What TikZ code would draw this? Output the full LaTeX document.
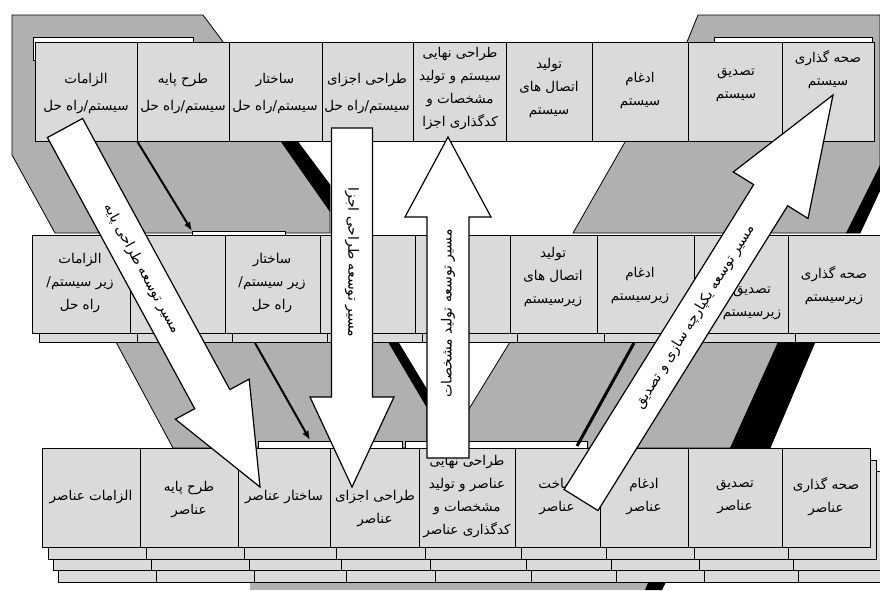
\documentclass[tikz,border=0pt]{standalone}
\usepackage{fontspec}
\usetikzlibrary{calc,arrows.meta}
\newfontfamily\fa[Script=Arabic]{DejaVu Sans}
\TeXXeTstate=1
\definecolor{cellgray}{RGB}{218,218,218}
\definecolor{bandgray}{RGB}{176,176,176}
\newcommand\rl[1]{\beginR #1\endR}
\newcommand\cellbox[5]{\node[cell, minimum width={#4-#2}, minimum height={#5-#3}] (#1) at (#2,#3) {};}
% #1 prefix, #2 tail, #3 tip, #4 shaft half width, #5 head half width, #6 head length
\newcommand\fatarrow[6]{%
  \coordinate (#1h) at ($(#3)!#6!(#2)$);
  \draw[bigarrow] ($(#2)!#4!90:(#3)$) -- ($(#1h)!#4!-90:(#2)$) -- ($(#1h)!#5!-90:(#2)$) -- (#3)
     -- ($(#1h)!#5!90:(#2)$) -- ($(#1h)!#4!90:(#2)$) -- ($(#2)!#4!-90:(#3)$) -- cycle;}
\begin{document}
\begin{tikzpicture}[x=1pt,y=-1pt,
  cell/.style={draw=black, line width=1pt, fill=cellgray, anchor=north west, inner sep=0pt, outer sep=0pt},
  layer/.style={draw=black, line width=1pt, fill=cellgray},
  whitelayer/.style={draw=black, line width=0.8pt, fill=white},
  band/.style={fill=bandgray, draw=black, line width=0.8pt},
  stripe/.style={fill=black},
  flowline/.style={line width=2pt, -{Latex[length=9pt,width=7pt]}},
  plainflow/.style={line width=3pt},
  bigarrow/.style={draw=black, line width=1.2pt, fill=white, line join=miter},
  lbl/.style={align=center, inner sep=0pt, font=\fa\fontsize{13.5}{23}\selectfont},
  lbltall/.style={align=center, inner sep=0pt, font=\fa\fontsize{13.5}{27}\selectfont},
  atext/.style={inner sep=0pt, font=\fa\fontsize{14}{16}\selectfont},
]
\fill[white] (0,0) rectangle (880,590);
\useasboundingbox (0,0) rectangle (880,590);

% ---------- gray bands ----------
\draw[band] (12,15) -- (203,15) -- (330,185) -- (330,233) -- (55,233) -- (12,155) -- cycle;
\fill[stripe] (281,142) -- (298,142) -- (330,185) -- (330,212) -- cycle;
\draw[band] (698,15) -- (880,15) -- (880,190) -- (860,233) -- (573,233) -- (625,142) -- (687,42) -- cycle;
\fill[stripe] (880,165) -- (880,190) -- (860,233) -- (846,233) -- cycle;
\draw[band] (116,342) -- (398,342) -- (427,390) -- (427,448) -- (173,448) -- cycle;
\fill[stripe] (388,342) -- (398,342) -- (427,390) -- (427,408) -- cycle;
\draw[band] (510,342) -- (815,342) -- (770,448) -- (445,448) -- cycle;
\fill[stripe] (778,342) -- (815,342) -- (770,448) -- (730,448) -- cycle;
\fill[bandgray] (250,578) rectangle (650,590);
\fill[stripe] (650,578) -- (668,578) -- (662,590) -- (645,590) -- cycle;

% ---------- top row (system) ----------
\draw[whitelayer] (33,37) rectangle (193,60);
\draw[whitelayer] (714,37) rectangle (872,60);
\cellbox{t1}{35}{42}{137}{141}
\cellbox{t2}{137}{42}{229}{141}
\cellbox{t3}{229}{42}{322}{141}
\cellbox{t4}{322}{42}{413}{141}
\cellbox{t5}{413}{42}{506}{141}
\cellbox{t6}{506}{42}{592}{141}
\cellbox{t7}{592}{42}{688}{141}
\cellbox{t8}{688}{42}{782}{141}
\cellbox{t9}{782}{42}{874}{141}

% ---------- middle row (subsystem) ----------
\draw[whitelayer] (192,231) rectangle (285,250);
\foreach \xa/\xb in {32/130,130/225,225/320,320/415,415/510,510/597,597/694,694/788,788/888}
  \draw[layer] (\xa+7,244) rectangle (\xb+7,342);
\cellbox{m1}{32}{235}{130}{333}
\cellbox{m2}{130}{235}{225}{333}
\cellbox{m3}{225}{235}{320}{333}
\cellbox{m4}{320}{235}{415}{333}
\cellbox{m5}{415}{235}{510}{333}
\cellbox{m6}{510}{235}{597}{333}
\cellbox{m7}{597}{235}{694}{333}
\cellbox{m8}{694}{235}{788}{333}
\cellbox{m9}{788}{235}{888}{333}

% ---------- bottom row (elements) ----------
\draw[whitelayer] (258,441) rectangle (402,460);
\draw[whitelayer] (405,441) rectangle (587,460);
\foreach \dx/\dy in {16/35,11/23,6/12}{
  \foreach \xa/\xb in {42/140,140/238,238/330,330/419,419/515,515/600,600/688,688/782,782/870}
    \draw[layer] (\xa+\dx,448+\dy) rectangle (\xb+\dx,547+\dy);
}
\cellbox{b1}{42}{448}{140}{547}
\cellbox{b2}{140}{448}{238}{547}
\cellbox{b3}{238}{448}{330}{547}
\cellbox{b4}{330}{448}{419}{547}
\cellbox{b5}{419}{448}{515}{547}
\cellbox{b6}{515}{448}{600}{547}
\cellbox{b7}{600}{448}{688}{547}
\cellbox{b8}{688}{448}{782}{547}
\cellbox{b9}{782}{448}{870}{547}

% ---------- thin flow lines ----------
\coordinate (f1e) at (192,231);
\draw[flowline] (t2.south west) -- (f1e);
\coordinate (f2s) at (255,343);
\coordinate (f2e) at (310,440);
\draw[flowline] (f2s) -- (f2e);
\coordinate (f3s) at (577,446);
\coordinate (f3e) at (634,343);
\draw[plainflow] (f3s) -- (f3e);

% ---------- labels ----------
\node[lbltall] (t1l) at (86,94) {\rl{الزامات}\\\rl{سیستم/راه حل}};
\node[lbltall] (t2l) at (183,94) {\rl{طرح پایه}\\\rl{سیستم/راه حل}};
\node[lbltall] (t3l) at (275,94) {\rl{ساختار}\\\rl{سیستم/راه حل}};
\node[lbltall] (t4l) at (367,94) {\rl{طراحی اجزای}\\\rl{سیستم/راه حل}};
\node[lbl] (t5l) at (460,89) {\rl{طراحی نهایی}\\\rl{سیستم و تولید}\\\rl{مشخصات و}\\\rl{کدگذاری اجزا}};
\node[lbl] (t6l) at (549,88) {\rl{تولید}\\\rl{اتصال های}\\\rl{سیستم}};
\node[lbl] (t7l) at (640,90) {\rl{ادغام}\\\rl{سیستم}};
\node[lbl] (t8l) at (736,85) {\rl{تصدیق}\\\rl{سیستم}};
\node[lbl] (t9l) at (828,70) {\rl{صحه گذاری}\\\rl{سیستم}};

\node[lbl] (m1l) at (80,283) {\rl{الزامات}\\\rl{زیر سیستم/}\\\rl{راه حل}};
\node[lbl] (m3l) at (272,283) {\rl{ساختار}\\\rl{زیر سیستم/}\\\rl{راه حل}};
\node[lbl] (m6l) at (553,277) {\rl{تولید}\\\rl{اتصال های}\\\rl{زیرسیستم}};
\node[lbl] (m7l) at (640,286) {\rl{ادغام}\\\rl{زیرسیستم}};
\node[lbl] (m8l) at (752,303) {\rl{تصدیق}\\\rl{زیرسیستم}};
\node[lbl] (m9l) at (834,286) {\rl{صحه گذاری}\\\rl{زیرسیستم}};

\node[lbl] (b1l) at (91,497) {\rl{الزامات عناصر}};
\node[lbl] (b2l) at (189,500) {\rl{طرح پایه}\\\rl{عناصر}};
\node[lbl] (b3l) at (284,497) {\rl{ساختار عناصر}};
\node[lbl] (b4l) at (375,509) {\rl{طراحی اجزای}\\\rl{عناصر}};
\node[lbl] (b5l) at (467,497) {\rl{طراحی نهایی}\\\rl{عناصر و تولید}\\\rl{مشخصات و}\\\rl{کدگذاری عناصر}};
\node[lbl] (b6l) at (557,497) {\rl{ساخت}\\\rl{عناصر}};
\node[lbl] (b7l) at (644,497) {\rl{ادغام}\\\rl{عناصر}};
\node[lbl] (b8l) at (735,497) {\rl{تصدیق}\\\rl{عناصر}};
\node[lbl] (b9l) at (826,497) {\rl{صحه گذاری}\\\rl{عناصر}};

% ---------- big white arrows ----------
\coordinate (At) at (65,128);  \coordinate (Ap) at (260,487);
\fatarrow{A}{At}{Ap}{20pt}{42pt}{100pt}
\path (At) -- (Ah) node[atext, pos=0.52, sloped, allow upside down] (Al) {\rl{مسیر توسعه طراحی پایه}};

\coordinate (Bt) at (352,128); \coordinate (Bp) at (352,487);
\fatarrow{B}{Bt}{Bp}{20.5pt}{42pt}{90pt}
\path (Bt) -- (Bh) node[atext, pos=0.5, sloped, allow upside down] (Bl) {\rl{مسیر توسعه طراحی اجزا}};

\coordinate (Ct) at (448,458); \coordinate (Cp) at (448,137);
\fatarrow{C}{Ct}{Cp}{21pt}{43pt}{80pt}
\path (Ct) -- (Ch) node[atext, pos=0.6, sloped, allow upside down] (Cl) {\rl{مسیر توسعه تولید مشخصات}};

\coordinate (Dt) at (581,500); \coordinate (Dp) at (833,95);
\fatarrow{D}{Dt}{Dp}{20pt}{44pt}{118pt}
\path (Dt) -- (Dh) node[atext, pos=0.6, sloped, allow upside down] (Dl) {\rl{مسیر توسعه یکپارچه سازی و تصدیق}};
\end{tikzpicture}
\end{document}
